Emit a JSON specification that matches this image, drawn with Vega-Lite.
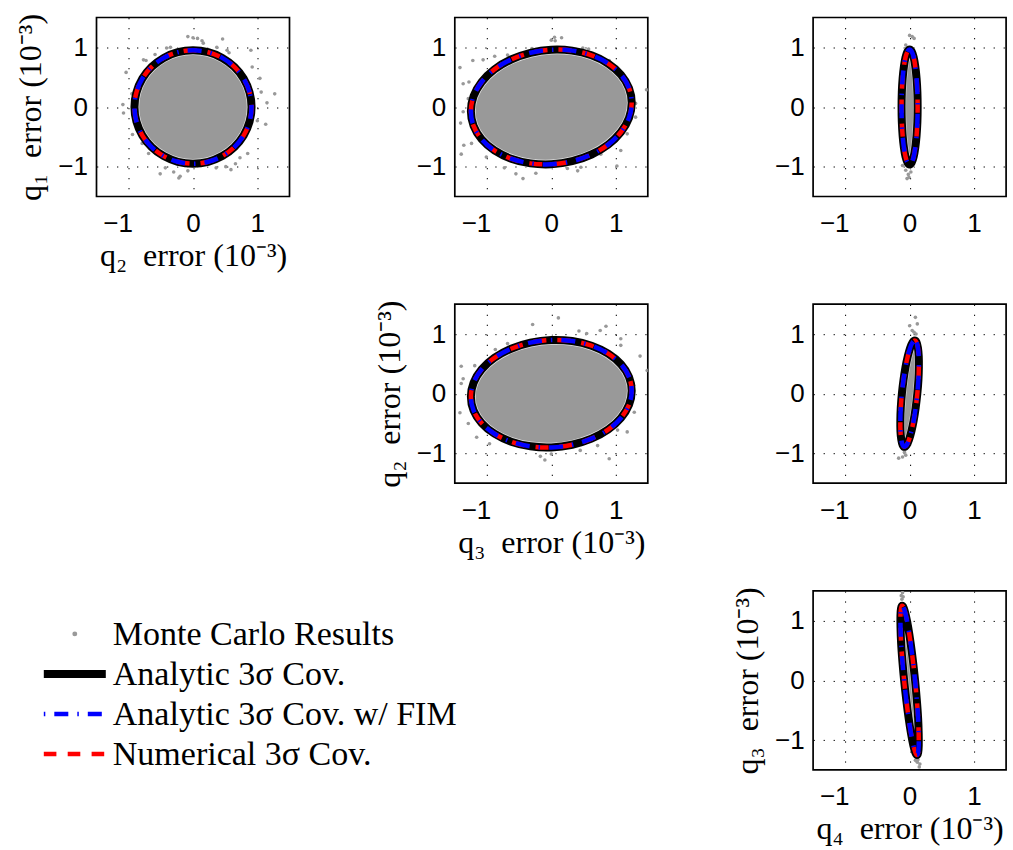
{
  "$schema": "https://vega.github.io/schema/vega-lite/v6.json",
  "background": "white",
  "padding": {"left": 13.5, "top": 12.5, "right": 5, "bottom": 5},
  "config": {
    "view": {"stroke": "#000000", "strokeWidth": 1.7},
    "axis": {
      "grid": true, "gridColor": "#000000", "gridDash": [1.3, 8.7], "gridWidth": 1, "gridOpacity": 1,
      "domain": false, "ticks": false,
      "labelFont": "Liberation Sans", "labelFontSize": 26, "labelColor": "#000000",
      "labelOverlap": false, "labelFlush": false,
      "titleFont": "Liberation Serif", "titleFontSize": 32, "titleFontWeight": "normal", "titleColor": "#000000"
    },
    "axisX": {"labelPadding": 14, "titlePadding": 4, "labelOffset": {"condition": {"test": "datum.value < 0", "value": -11}, "value": 0}},
    "axisY": {"labelPadding": 9, "titlePadding": 10}
  },
  "datasets": {
    "ell": [
      {"p":"p1","i":0,"x":0.91,"y":0},{"p":"p1","i":1,"x":0.879,"y":0.246},{"p":"p1","i":2,"x":0.788,"y":0.475},{"p":"p1","i":3,"x":0.643,"y":0.672},{"p":"p1","i":4,"x":0.455,"y":0.823},{"p":"p1","i":5,"x":0.236,"y":0.918},{"p":"p1","i":6,"x":0,"y":0.95},{"p":"p1","i":7,"x":-0.236,"y":0.918},{"p":"p1","i":8,"x":-0.455,"y":0.823},{"p":"p1","i":9,"x":-0.643,"y":0.672},{"p":"p1","i":10,"x":-0.788,"y":0.475},{"p":"p1","i":11,"x":-0.879,"y":0.246},{"p":"p1","i":12,"x":-0.91,"y":0},{"p":"p1","i":13,"x":-0.879,"y":-0.246},{"p":"p1","i":14,"x":-0.788,"y":-0.475},{"p":"p1","i":15,"x":-0.643,"y":-0.672},{"p":"p1","i":16,"x":-0.455,"y":-0.823},{"p":"p1","i":17,"x":-0.236,"y":-0.918},{"p":"p1","i":18,"x":0,"y":-0.95},{"p":"p1","i":19,"x":0.236,"y":-0.918},{"p":"p1","i":20,"x":0.455,"y":-0.823},{"p":"p1","i":21,"x":0.643,"y":-0.672},{"p":"p1","i":22,"x":0.788,"y":-0.475},{"p":"p1","i":23,"x":0.879,"y":-0.246},
      {"p":"p2","i":0,"x":1.25,"y":0.07},{"p":"p2","i":1,"x":1.208,"y":0.317},{"p":"p2","i":2,"x":1.083,"y":0.541},{"p":"p2","i":3,"x":0.884,"y":0.728},{"p":"p2","i":4,"x":0.625,"y":0.866},{"p":"p2","i":5,"x":0.324,"y":0.945},{"p":"p2","i":6,"x":0,"y":0.96},{"p":"p2","i":7,"x":-0.324,"y":0.909},{"p":"p2","i":8,"x":-0.625,"y":0.796},{"p":"p2","i":9,"x":-0.884,"y":0.63},{"p":"p2","i":10,"x":-1.083,"y":0.419},{"p":"p2","i":11,"x":-1.208,"y":0.181},{"p":"p2","i":12,"x":-1.25,"y":-0.07},{"p":"p2","i":13,"x":-1.208,"y":-0.317},{"p":"p2","i":14,"x":-1.083,"y":-0.541},{"p":"p2","i":15,"x":-0.884,"y":-0.728},{"p":"p2","i":16,"x":-0.625,"y":-0.866},{"p":"p2","i":17,"x":-0.324,"y":-0.945},{"p":"p2","i":18,"x":0,"y":-0.96},{"p":"p2","i":19,"x":0.324,"y":-0.909},{"p":"p2","i":20,"x":0.625,"y":-0.796},{"p":"p2","i":21,"x":0.884,"y":-0.63},{"p":"p2","i":22,"x":1.083,"y":-0.419},{"p":"p2","i":23,"x":1.208,"y":-0.181},
      {"p":"p3","i":0,"x":0.125,"y":0},{"p":"p3","i":1,"x":0.121,"y":0.25},{"p":"p3","i":2,"x":0.108,"y":0.483},{"p":"p3","i":3,"x":0.088,"y":0.682},{"p":"p3","i":4,"x":0.063,"y":0.836},{"p":"p3","i":5,"x":0.032,"y":0.932},{"p":"p3","i":6,"x":0,"y":0.965},{"p":"p3","i":7,"x":-0.032,"y":0.932},{"p":"p3","i":8,"x":-0.063,"y":0.836},{"p":"p3","i":9,"x":-0.088,"y":0.682},{"p":"p3","i":10,"x":-0.108,"y":0.483},{"p":"p3","i":11,"x":-0.121,"y":0.25},{"p":"p3","i":12,"x":-0.125,"y":0},{"p":"p3","i":13,"x":-0.121,"y":-0.25},{"p":"p3","i":14,"x":-0.108,"y":-0.483},{"p":"p3","i":15,"x":-0.088,"y":-0.682},{"p":"p3","i":16,"x":-0.063,"y":-0.836},{"p":"p3","i":17,"x":-0.032,"y":-0.932},{"p":"p3","i":18,"x":0,"y":-0.965},{"p":"p3","i":19,"x":0.032,"y":-0.932},{"p":"p3","i":20,"x":0.063,"y":-0.836},{"p":"p3","i":21,"x":0.088,"y":-0.682},{"p":"p3","i":22,"x":0.108,"y":-0.483},{"p":"p3","i":23,"x":0.121,"y":-0.25},
      {"p":"p4","i":0,"x":1.25,"y":0.05},{"p":"p4","i":1,"x":1.208,"y":0.281},{"p":"p4","i":2,"x":1.083,"y":0.493},{"p":"p4","i":3,"x":0.884,"y":0.671},{"p":"p4","i":4,"x":0.625,"y":0.804},{"p":"p4","i":5,"x":0.324,"y":0.882},{"p":"p4","i":6,"x":0,"y":0.9},{"p":"p4","i":7,"x":-0.324,"y":0.856},{"p":"p4","i":8,"x":-0.625,"y":0.754},{"p":"p4","i":9,"x":-0.884,"y":0.601},{"p":"p4","i":10,"x":-1.083,"y":0.407},{"p":"p4","i":11,"x":-1.208,"y":0.185},{"p":"p4","i":12,"x":-1.25,"y":-0.05},{"p":"p4","i":13,"x":-1.208,"y":-0.281},{"p":"p4","i":14,"x":-1.083,"y":-0.493},{"p":"p4","i":15,"x":-0.884,"y":-0.671},{"p":"p4","i":16,"x":-0.625,"y":-0.804},{"p":"p4","i":17,"x":-0.324,"y":-0.882},{"p":"p4","i":18,"x":0,"y":-0.9},{"p":"p4","i":19,"x":0.324,"y":-0.856},{"p":"p4","i":20,"x":0.625,"y":-0.754},{"p":"p4","i":21,"x":0.884,"y":-0.601},{"p":"p4","i":22,"x":1.083,"y":-0.407},{"p":"p4","i":23,"x":1.208,"y":-0.185},
      {"p":"p5","i":0,"x":0.08,"y":0.89},{"p":"p5","i":1,"x":0.108,"y":0.86},{"p":"p5","i":2,"x":0.129,"y":0.771},{"p":"p5","i":3,"x":0.142,"y":0.629},{"p":"p5","i":4,"x":0.144,"y":0.445},{"p":"p5","i":5,"x":0.137,"y":0.231},{"p":"p5","i":6,"x":0.12,"y":0},{"p":"p5","i":7,"x":0.095,"y":-0.231},{"p":"p5","i":8,"x":0.064,"y":-0.445},{"p":"p5","i":9,"x":0.028,"y":-0.629},{"p":"p5","i":10,"x":-0.009,"y":-0.771},{"p":"p5","i":11,"x":-0.046,"y":-0.86},{"p":"p5","i":12,"x":-0.08,"y":-0.89},{"p":"p5","i":13,"x":-0.108,"y":-0.86},{"p":"p5","i":14,"x":-0.129,"y":-0.771},{"p":"p5","i":15,"x":-0.142,"y":-0.629},{"p":"p5","i":16,"x":-0.144,"y":-0.445},{"p":"p5","i":17,"x":-0.137,"y":-0.231},{"p":"p5","i":18,"x":-0.12,"y":0},{"p":"p5","i":19,"x":-0.095,"y":0.231},{"p":"p5","i":20,"x":-0.064,"y":0.445},{"p":"p5","i":21,"x":-0.028,"y":0.629},{"p":"p5","i":22,"x":0.009,"y":0.771},{"p":"p5","i":23,"x":0.046,"y":0.86},
      {"p":"p6","i":0,"x":-0.115,"y":1.25},{"p":"p6","i":1,"x":-0.089,"y":1.208},{"p":"p6","i":2,"x":-0.057,"y":1.083},{"p":"p6","i":3,"x":-0.021,"y":0.884},{"p":"p6","i":4,"x":0.016,"y":0.625},{"p":"p6","i":5,"x":0.052,"y":0.324},{"p":"p6","i":6,"x":0.085,"y":0},{"p":"p6","i":7,"x":0.112,"y":-0.324},{"p":"p6","i":8,"x":0.132,"y":-0.625},{"p":"p6","i":9,"x":0.141,"y":-0.884},{"p":"p6","i":10,"x":0.142,"y":-1.083},{"p":"p6","i":11,"x":0.133,"y":-1.208},{"p":"p6","i":12,"x":0.115,"y":-1.25},{"p":"p6","i":13,"x":0.089,"y":-1.208},{"p":"p6","i":14,"x":0.057,"y":-1.083},{"p":"p6","i":15,"x":0.021,"y":-0.884},{"p":"p6","i":16,"x":-0.016,"y":-0.625},{"p":"p6","i":17,"x":-0.052,"y":-0.324},{"p":"p6","i":18,"x":-0.085,"y":0},{"p":"p6","i":19,"x":-0.112,"y":0.324},{"p":"p6","i":20,"x":-0.132,"y":0.625},{"p":"p6","i":21,"x":-0.141,"y":0.884},{"p":"p6","i":22,"x":-0.142,"y":1.083},{"p":"p6","i":23,"x":-0.133,"y":1.208}
    ],
    "mc": [
      {"p":"p1","x":-0.08,"y":1.18},{"p":"p1","x":0,"y":1.16},{"p":"p1","x":0.07,"y":1.15},{"p":"p1","x":0.14,"y":1.11},{"p":"p1","x":0.16,"y":1.07},{"p":"p1","x":0.46,"y":1.14},{"p":"p1","x":0.37,"y":1.0},{"p":"p1","x":0.53,"y":0.95},{"p":"p1","x":0.56,"y":0.91},{"p":"p1","x":0.9,"y":0.95},{"p":"p1","x":0.92,"y":0.67},{"p":"p1","x":1.04,"y":0.48},{"p":"p1","x":1.06,"y":0.25},{"p":"p1","x":1.27,"y":0.22},{"p":"p1","x":1.15,"y":0.07},{"p":"p1","x":1.0,"y":-0.23},{"p":"p1","x":1.13,"y":-0.29},{"p":"p1","x":0.85,"y":-0.78},{"p":"p1","x":0.73,"y":-0.85},{"p":"p1","x":0.66,"y":-0.95},{"p":"p1","x":0.59,"y":-1.05},{"p":"p1","x":0.51,"y":-1.0},{"p":"p1","x":0.36,"y":-1.02},{"p":"p1","x":-0.08,"y":-1.07},{"p":"p1","x":-0.22,"y":-1.19},{"p":"p1","x":-0.2,"y":-1.16},{"p":"p1","x":-0.3,"y":-1.09},{"p":"p1","x":-0.51,"y":-1.12},{"p":"p1","x":-0.43,"y":-1.02},{"p":"p1","x":-0.69,"y":-0.78},{"p":"p1","x":-0.79,"y":-0.61},{"p":"p1","x":-0.94,"y":-0.46},{"p":"p1","x":-1.08,"y":-0.1},{"p":"p1","x":-1.09,"y":0.04},{"p":"p1","x":-0.95,"y":0.22},{"p":"p1","x":-1.04,"y":0.58},{"p":"p1","x":-0.77,"y":0.79},{"p":"p1","x":-0.73,"y":0.78},{"p":"p1","x":-0.59,"y":0.88},{"p":"p1","x":-0.41,"y":0.99},{"p":"p1","x":-0.35,"y":1.0},
      {"p":"p2","x":0.05,"y":1.17},{"p":"p2","x":0.06,"y":1.11},{"p":"p2","x":0,"y":1.12},{"p":"p2","x":0.16,"y":1.16},{"p":"p2","x":0.49,"y":0.99},{"p":"p2","x":0.58,"y":0.97},{"p":"p2","x":0.9,"y":0.78},{"p":"p2","x":1.05,"y":0.59},{"p":"p2","x":1.13,"y":0.5},{"p":"p2","x":1.48,"y":0.29},{"p":"p2","x":1.31,"y":0.06},{"p":"p2","x":1.31,"y":-0.17},{"p":"p2","x":1.18,"y":-0.45},{"p":"p2","x":1.08,"y":-0.73},{"p":"p2","x":1.02,"y":-0.99},{"p":"p2","x":0.77,"y":-0.79},{"p":"p2","x":0.46,"y":-1.01},{"p":"p2","x":0.41,"y":-1.07},{"p":"p2","x":0.25,"y":-1.03},{"p":"p2","x":-0.24,"y":-1.11},{"p":"p2","x":-0.44,"y":-1.2},{"p":"p2","x":-0.55,"y":-1.12},{"p":"p2","x":-0.73,"y":-1.02},{"p":"p2","x":-1.01,"y":-0.84},{"p":"p2","x":-1.4,"y":-0.79},{"p":"p2","x":-1.36,"y":-0.64},{"p":"p2","x":-1.24,"y":-0.61},{"p":"p2","x":-1.41,"y":-0.27},{"p":"p2","x":-1.37,"y":-0.08},{"p":"p2","x":-1.29,"y":0.14},{"p":"p2","x":-1.37,"y":0.39},{"p":"p2","x":-1.28,"y":0.42},{"p":"p2","x":-1.42,"y":0.66},{"p":"p2","x":-1.22,"y":0.78},{"p":"p2","x":-1.06,"y":0.79},{"p":"p2","x":-0.88,"y":0.85},{"p":"p2","x":-0.68,"y":0.87},{"p":"p2","x":-0.3,"y":0.98},
      {"p":"p3","x":0,"y":1.2},{"p":"p3","x":0.04,"y":1.18},{"p":"p3","x":0.07,"y":1.15},{"p":"p3","x":-0.06,"y":1.04},{"p":"p3","x":-0.11,"y":-0.98},{"p":"p3","x":-0.06,"y":-1.06},{"p":"p3","x":-0.02,"y":-1.13},{"p":"p3","x":-0.01,"y":-1.18},{"p":"p3","x":0.02,"y":-1.09},{"p":"p3","x":-0.04,"y":-1.2},
      {"p":"p4","x":0.11,"y":1.27},{"p":"p4","x":-0.29,"y":1.16},{"p":"p4","x":0.43,"y":1.05},{"p":"p4","x":0.55,"y":1.01},{"p":"p4","x":0.76,"y":1.06},{"p":"p4","x":0.85,"y":1.13},{"p":"p4","x":1.08,"y":0.92},{"p":"p4","x":1.08,"y":0.81},{"p":"p4","x":1.38,"y":0.63},{"p":"p4","x":1.49,"y":0.39},{"p":"p4","x":1.28,"y":0.14},{"p":"p4","x":1.29,"y":-0.31},{"p":"p4","x":1.18,"y":-0.64},{"p":"p4","x":1.03,"y":-0.61},{"p":"p4","x":0.9,"y":-1.09},{"p":"p4","x":0.72,"y":-0.87},{"p":"p4","x":0.45,"y":-0.95},{"p":"p4","x":0,"y":-1.01},{"p":"p4","x":-0.17,"y":-1.05},{"p":"p4","x":-0.1,"y":-1.11},{"p":"p4","x":-0.44,"y":-0.84},{"p":"p4","x":-0.73,"y":-0.78},{"p":"p4","x":-0.96,"y":-0.84},{"p":"p4","x":-1.16,"y":-0.73},{"p":"p4","x":-1.29,"y":-0.5},{"p":"p4","x":-1.42,"y":-0.32},{"p":"p4","x":-1.4,"y":0.17},{"p":"p4","x":-1.37,"y":0.25},{"p":"p4","x":-1.4,"y":0.46},{"p":"p4","x":-1.19,"y":0.47},{"p":"p4","x":-0.87,"y":0.74},{"p":"p4","x":-0.68,"y":0.84},
      {"p":"p5","x":0.09,"y":1.28},{"p":"p5","x":0.12,"y":1.17},{"p":"p5","x":0,"y":1.14},{"p":"p5","x":0.04,"y":1.06},{"p":"p5","x":0.07,"y":1.03},{"p":"p5","x":0.1,"y":1.0},{"p":"p5","x":-0.17,"y":-1.08},{"p":"p5","x":-0.11,"y":-1.06},{"p":"p5","x":-0.06,"y":-1.03},{"p":"p5","x":-0.08,"y":-0.98},
      {"p":"p6","x":-0.13,"y":1.42},{"p":"p6","x":-0.1,"y":1.4},{"p":"p6","x":-0.11,"y":1.47},{"p":"p6","x":-0.12,"y":1.36},{"p":"p6","x":0.12,"y":-1.37},{"p":"p6","x":0.16,"y":-1.4},{"p":"p6","x":0.09,"y":-1.34},{"p":"p6","x":0.13,"y":-1.33},{"p":"p6","x":0.15,"y":-1.45}
    ]
  },
  "columns": 3,
  "spacing": {"row": 107.7, "column": 165.3},
  "bounds": "flush",
  "concat": [
    {
      "width": 193, "height": 179,
      "encoding": {
        "x": {"field": "x", "type": "quantitative", "scale": {"domain": [-1.5, 1.5], "nice": false, "zero": false}, "axis": {"values": [-1, 0, 1], "title": "q₂\u2002error (10⁻³)"}},
        "y": {"field": "y", "type": "quantitative", "scale": {"domain": [-1.5, 1.5], "nice": false, "zero": false}, "axis": {"values": [-1, 0, 1], "title": "q₁\u2002error (10⁻³)"}}
      },
      "layer": [
        {"data": {"name": "ell"}, "transform": [{"filter": "datum.p === 'p1'"}], "mark": {"type": "line", "interpolate": "cardinal-closed", "fill": "#999999", "stroke": "#ffffff", "strokeWidth": 9.5, "strokeOpacity": 0.7}, "encoding": {"order": {"field": "i", "type": "quantitative"}}},
        {"data": {"name": "mc"}, "transform": [{"filter": "datum.p === 'p1'"}], "mark": {"type": "circle", "size": 13, "color": "#999999", "opacity": 1, "clip": true}},
        {"data": {"name": "ell"}, "transform": [{"filter": "datum.p === 'p1'"}], "mark": {"type": "line", "interpolate": "cardinal-closed", "stroke": "#000000", "strokeWidth": 8}, "encoding": {"order": {"field": "i", "type": "quantitative"}}},
        {"data": {"name": "ell"}, "transform": [{"filter": "datum.p === 'p1'"}], "mark": {"type": "line", "interpolate": "cardinal-closed", "stroke": "#ff0000", "strokeWidth": 4.5, "strokeDash": [13, 11]}, "encoding": {"order": {"field": "i", "type": "quantitative"}}},
        {"data": {"name": "ell"}, "transform": [{"filter": "datum.p === 'p1'"}], "mark": {"type": "line", "interpolate": "cardinal-closed", "stroke": "#0000ff", "strokeWidth": 4.5, "strokeDash": [14, 9, 1.5, 9]}, "encoding": {"order": {"field": "i", "type": "quantitative"}}}
      ]
    },
    {
      "width": 193, "height": 179,
      "encoding": {
        "x": {"field": "x", "type": "quantitative", "scale": {"domain": [-1.5, 1.5], "nice": false, "zero": false}, "axis": {"values": [-1, 0, 1], "title": null}},
        "y": {"field": "y", "type": "quantitative", "scale": {"domain": [-1.5, 1.5], "nice": false, "zero": false}, "axis": {"values": [-1, 0, 1], "title": null}}
      },
      "layer": [
        {"data": {"name": "ell"}, "transform": [{"filter": "datum.p === 'p2'"}], "mark": {"type": "line", "interpolate": "cardinal-closed", "fill": "#999999", "stroke": "#ffffff", "strokeWidth": 9.5, "strokeOpacity": 0.7}, "encoding": {"order": {"field": "i", "type": "quantitative"}}},
        {"data": {"name": "mc"}, "transform": [{"filter": "datum.p === 'p2'"}], "mark": {"type": "circle", "size": 13, "color": "#999999", "opacity": 1, "clip": true}},
        {"data": {"name": "ell"}, "transform": [{"filter": "datum.p === 'p2'"}], "mark": {"type": "line", "interpolate": "cardinal-closed", "stroke": "#000000", "strokeWidth": 8}, "encoding": {"order": {"field": "i", "type": "quantitative"}}},
        {"data": {"name": "ell"}, "transform": [{"filter": "datum.p === 'p2'"}], "mark": {"type": "line", "interpolate": "cardinal-closed", "stroke": "#ff0000", "strokeWidth": 4.5, "strokeDash": [13, 11]}, "encoding": {"order": {"field": "i", "type": "quantitative"}}},
        {"data": {"name": "ell"}, "transform": [{"filter": "datum.p === 'p2'"}], "mark": {"type": "line", "interpolate": "cardinal-closed", "stroke": "#0000ff", "strokeWidth": 4.5, "strokeDash": [14, 9, 1.5, 9]}, "encoding": {"order": {"field": "i", "type": "quantitative"}}}
      ]
    },
    {
      "width": 193, "height": 179,
      "encoding": {
        "x": {"field": "x", "type": "quantitative", "scale": {"domain": [-1.5, 1.5], "nice": false, "zero": false}, "axis": {"values": [-1, 0, 1], "title": null}},
        "y": {"field": "y", "type": "quantitative", "scale": {"domain": [-1.5, 1.5], "nice": false, "zero": false}, "axis": {"values": [-1, 0, 1], "title": null}}
      },
      "layer": [
        {"data": {"name": "ell"}, "transform": [{"filter": "datum.p === 'p3'"}], "mark": {"type": "line", "interpolate": "cardinal-closed", "fill": "#999999", "stroke": "#ffffff", "strokeWidth": 9, "strokeOpacity": 0.7}, "encoding": {"order": {"field": "i", "type": "quantitative"}}},
        {"data": {"name": "mc"}, "transform": [{"filter": "datum.p === 'p3'"}], "mark": {"type": "circle", "size": 13, "color": "#999999", "opacity": 1, "clip": true}},
        {"data": {"name": "ell"}, "transform": [{"filter": "datum.p === 'p3'"}], "mark": {"type": "line", "interpolate": "cardinal-closed", "stroke": "#000000", "strokeWidth": 8}, "encoding": {"order": {"field": "i", "type": "quantitative"}}},
        {"data": {"name": "ell"}, "transform": [{"filter": "datum.p === 'p3'"}], "mark": {"type": "line", "interpolate": "cardinal-closed", "stroke": "#ff0000", "strokeWidth": 4.5, "strokeDash": [13, 11]}, "encoding": {"order": {"field": "i", "type": "quantitative"}}},
        {"data": {"name": "ell"}, "transform": [{"filter": "datum.p === 'p3'"}], "mark": {"type": "line", "interpolate": "cardinal-closed", "stroke": "#0000ff", "strokeWidth": 4.5, "strokeDash": [14, 9, 1.5, 9]}, "encoding": {"order": {"field": "i", "type": "quantitative"}}}
      ]
    },
    {"width": 193, "height": 179, "view": {"stroke": null}, "data": {"values": []}, "mark": "point"},
    {
      "width": 193, "height": 179,
      "encoding": {
        "x": {"field": "x", "type": "quantitative", "scale": {"domain": [-1.5, 1.5], "nice": false, "zero": false}, "axis": {"values": [-1, 0, 1], "title": "q₃\u2002error (10⁻³)"}},
        "y": {"field": "y", "type": "quantitative", "scale": {"domain": [-1.5, 1.5], "nice": false, "zero": false}, "axis": {"values": [-1, 0, 1], "title": "q₂\u2002error (10⁻³)"}}
      },
      "layer": [
        {"data": {"name": "ell"}, "transform": [{"filter": "datum.p === 'p4'"}], "mark": {"type": "line", "interpolate": "cardinal-closed", "fill": "#999999", "stroke": "#ffffff", "strokeWidth": 9.5, "strokeOpacity": 0.7}, "encoding": {"order": {"field": "i", "type": "quantitative"}}},
        {"data": {"name": "mc"}, "transform": [{"filter": "datum.p === 'p4'"}], "mark": {"type": "circle", "size": 13, "color": "#999999", "opacity": 1, "clip": true}},
        {"data": {"name": "ell"}, "transform": [{"filter": "datum.p === 'p4'"}], "mark": {"type": "line", "interpolate": "cardinal-closed", "stroke": "#000000", "strokeWidth": 8}, "encoding": {"order": {"field": "i", "type": "quantitative"}}},
        {"data": {"name": "ell"}, "transform": [{"filter": "datum.p === 'p4'"}], "mark": {"type": "line", "interpolate": "cardinal-closed", "stroke": "#ff0000", "strokeWidth": 4.5, "strokeDash": [13, 11]}, "encoding": {"order": {"field": "i", "type": "quantitative"}}},
        {"data": {"name": "ell"}, "transform": [{"filter": "datum.p === 'p4'"}], "mark": {"type": "line", "interpolate": "cardinal-closed", "stroke": "#0000ff", "strokeWidth": 4.5, "strokeDash": [14, 9, 1.5, 9]}, "encoding": {"order": {"field": "i", "type": "quantitative"}}}
      ]
    },
    {
      "width": 193, "height": 179,
      "encoding": {
        "x": {"field": "x", "type": "quantitative", "scale": {"domain": [-1.5, 1.5], "nice": false, "zero": false}, "axis": {"values": [-1, 0, 1], "title": null}},
        "y": {"field": "y", "type": "quantitative", "scale": {"domain": [-1.5, 1.5], "nice": false, "zero": false}, "axis": {"values": [-1, 0, 1], "title": null}}
      },
      "layer": [
        {"data": {"name": "ell"}, "transform": [{"filter": "datum.p === 'p5'"}], "mark": {"type": "line", "interpolate": "cardinal-closed", "fill": "#999999", "stroke": "#ffffff", "strokeWidth": 9, "strokeOpacity": 0.7}, "encoding": {"order": {"field": "i", "type": "quantitative"}}},
        {"data": {"name": "mc"}, "transform": [{"filter": "datum.p === 'p5'"}], "mark": {"type": "circle", "size": 13, "color": "#999999", "opacity": 1, "clip": true}},
        {"data": {"name": "ell"}, "transform": [{"filter": "datum.p === 'p5'"}], "mark": {"type": "line", "interpolate": "cardinal-closed", "stroke": "#000000", "strokeWidth": 8}, "encoding": {"order": {"field": "i", "type": "quantitative"}}},
        {"data": {"name": "ell"}, "transform": [{"filter": "datum.p === 'p5'"}], "mark": {"type": "line", "interpolate": "cardinal-closed", "stroke": "#ff0000", "strokeWidth": 4.5, "strokeDash": [13, 11]}, "encoding": {"order": {"field": "i", "type": "quantitative"}}},
        {"data": {"name": "ell"}, "transform": [{"filter": "datum.p === 'p5'"}], "mark": {"type": "line", "interpolate": "cardinal-closed", "stroke": "#0000ff", "strokeWidth": 4.5, "strokeDash": [14, 9, 1.5, 9]}, "encoding": {"order": {"field": "i", "type": "quantitative"}}}
      ]
    },
    {
      "width": 193, "height": 179,
      "view": {"stroke": null},
      "data": {"values": [
        {"row": 3, "label": "Monte Carlo Results", "kind": "dot"},
        {"row": 2, "label": "Analytic 3σ Cov.", "kind": "solid"},
        {"row": 1, "label": "Analytic 3σ Cov. w/ FIM", "kind": "dashdot"},
        {"row": 0, "label": "Numerical 3σ Cov.", "kind": "dashed"}
      ]},
      "encoding": {
        "y": {"field": "row", "type": "quantitative", "scale": {"domain": [-0.4, 4.075], "nice": false, "zero": false}, "axis": null}
      },
      "layer": [
        {"transform": [{"filter": "datum.kind === 'dot'"}], "mark": {"type": "circle", "size": 24, "color": "#999999", "opacity": 1}, "encoding": {"x": {"datum": 0.5, "type": "quantitative", "scale": {"domain": [0.85, 3.963], "nice": false, "zero": false}, "axis": null}}},
        {"transform": [{"filter": "datum.kind === 'solid'"}], "mark": {"type": "rule", "stroke": "#000000", "strokeWidth": 8}, "encoding": {"x": {"datum": 0, "type": "quantitative", "scale": {"domain": [0.85, 3.963], "nice": false, "zero": false}, "axis": null}, "x2": {"datum": 1}}},
        {"transform": [{"filter": "datum.kind === 'dashdot'"}], "mark": {"type": "rule", "stroke": "#0000ff", "strokeWidth": 4.5, "strokeDash": [14, 9, 1.5, 9], "strokeDashOffset": 23}, "encoding": {"x": {"datum": 0, "type": "quantitative", "scale": {"domain": [0.85, 3.963], "nice": false, "zero": false}, "axis": null}, "x2": {"datum": 1}}},
        {"transform": [{"filter": "datum.kind === 'dashed'"}], "mark": {"type": "rule", "stroke": "#ff0000", "strokeWidth": 4.5, "strokeDash": [12.6, 11.3]}, "encoding": {"x": {"datum": 0, "type": "quantitative", "scale": {"domain": [0.85, 3.963], "nice": false, "zero": false}, "axis": null}, "x2": {"datum": 1}}},
        {"mark": {"type": "text", "align": "left", "baseline": "middle", "dx": 7, "dy": 1, "font": "Liberation Serif", "fontSize": 34, "color": "#000000"}, "encoding": {"x": {"datum": 1, "type": "quantitative", "scale": {"domain": [0.85, 3.963], "nice": false, "zero": false}, "axis": null}, "text": {"field": "label"}}}
      ]
    },
    {"width": 193, "height": 179, "view": {"stroke": null}, "data": {"values": []}, "mark": "point"},
    {
      "width": 193, "height": 179,
      "encoding": {
        "x": {"field": "x", "type": "quantitative", "scale": {"domain": [-1.5, 1.5], "nice": false, "zero": false}, "axis": {"values": [-1, 0, 1], "title": "q₄\u2002error (10⁻³)"}},
        "y": {"field": "y", "type": "quantitative", "scale": {"domain": [-1.5, 1.5], "nice": false, "zero": false}, "axis": {"values": [-1, 0, 1], "title": "q₃\u2002error (10⁻³)"}}
      },
      "layer": [
        {"data": {"name": "ell"}, "transform": [{"filter": "datum.p === 'p6'"}], "mark": {"type": "line", "interpolate": "cardinal-closed", "fill": "#999999", "stroke": "#ffffff", "strokeWidth": 9, "strokeOpacity": 0.7}, "encoding": {"order": {"field": "i", "type": "quantitative"}}},
        {"data": {"name": "mc"}, "transform": [{"filter": "datum.p === 'p6'"}], "mark": {"type": "circle", "size": 13, "color": "#999999", "opacity": 1, "clip": true}},
        {"data": {"name": "ell"}, "transform": [{"filter": "datum.p === 'p6'"}], "mark": {"type": "line", "interpolate": "cardinal-closed", "stroke": "#000000", "strokeWidth": 8}, "encoding": {"order": {"field": "i", "type": "quantitative"}}},
        {"data": {"name": "ell"}, "transform": [{"filter": "datum.p === 'p6'"}], "mark": {"type": "line", "interpolate": "cardinal-closed", "stroke": "#ff0000", "strokeWidth": 4.5, "strokeDash": [13, 11]}, "encoding": {"order": {"field": "i", "type": "quantitative"}}},
        {"data": {"name": "ell"}, "transform": [{"filter": "datum.p === 'p6'"}], "mark": {"type": "line", "interpolate": "cardinal-closed", "stroke": "#0000ff", "strokeWidth": 4.5, "strokeDash": [14, 9, 1.5, 9]}, "encoding": {"order": {"field": "i", "type": "quantitative"}}}
      ]
    }
  ]
}
